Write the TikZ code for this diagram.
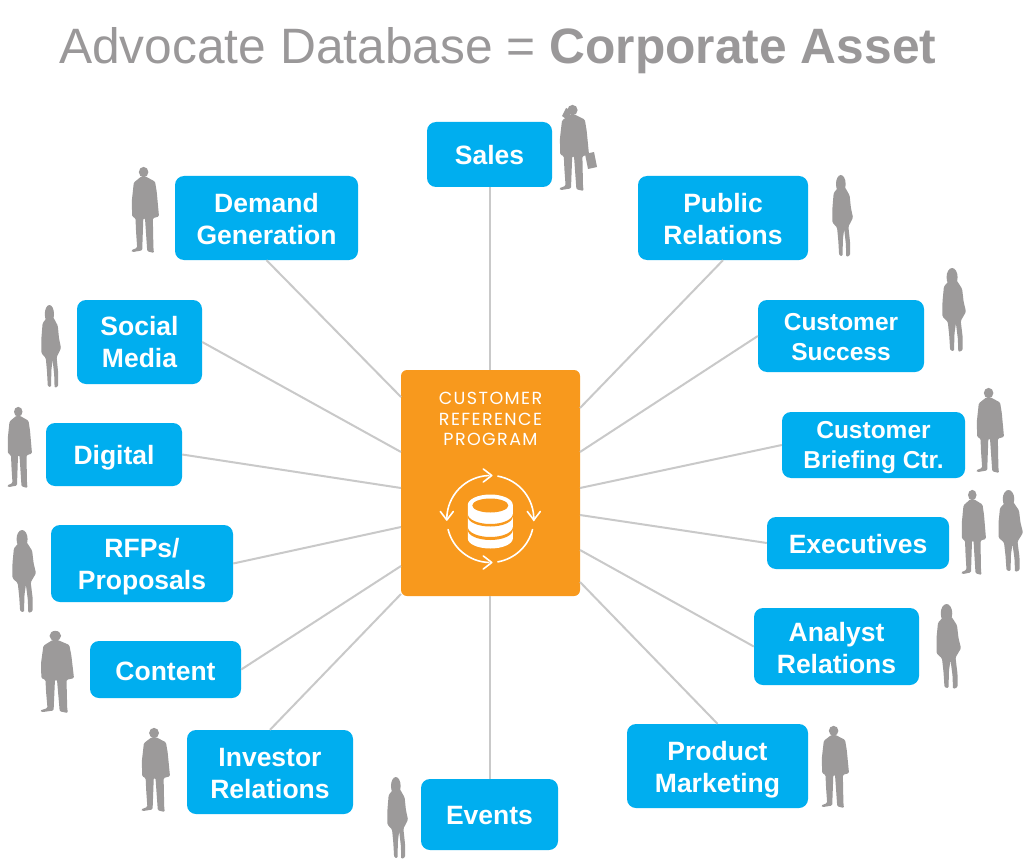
\documentclass[tikz,border=0pt]{standalone}
\usepackage{fontspec}
\setmainfont{Liberation Sans}
\newfontfamily\crpfont[LetterSpace=8]{Poppins}
\definecolor{boxblue}{HTML}{00AEEF}
\definecolor{crporange}{HTML}{F8991D}
\definecolor{linegray}{HTML}{C9C9C9}
\definecolor{titlegray}{HTML}{9A9899}
\definecolor{persongray}{HTML}{9C9A9A}
\tikzset{
  bluebox/.style={fill=boxblue,rounded corners=9pt,inner sep=0pt},
  bigtext/.style={text=white,align=center,inner sep=0pt,font=\fontsize{26.5}{32}\selectfont\bfseries},
  smalltext/.style={text=white,align=center,inner sep=0pt,font=\fontsize{24.5}{30}\selectfont\bfseries},
  spoke/.style={draw=linegray,line width=2pt},
  ring/.style={draw=white,line width=1.6pt,line cap=round,line join=round},
  silhouette/.style={fill=persongray,draw=none,rounded corners=1.2pt}
}
% [text style]{x1}{y1}{x2}{y2}{name}{text drop}{text}
\newcommand{\rbox}[8][bigtext]{%
  \node[bluebox,minimum width={(#4-#2)*1pt},minimum height={(#5-#3)*1pt}] (#6)
    at ({(#2+#4)/2},{(#3+#5)/2}) {};
  \node[#1] (#6label) at ({(#2+#4)/2},{(#3+#5)/2+#7}) {#8};}
\newcommand{\manshape}{%
  \fill[silhouette] (45,7) ellipse [x radius=17,y radius=6];
  \fill[silhouette] (37,12)--(10,19)--(3,40)--(4,58)--(16,60)--(18,75)--(22,94)--(0,97)--(5,99)--(40,97)--(44,60)--(50,60)--(58,98)--(82,100)--(80,94)--(78,60)--(100,58)--(92,30)--(86,18)--(52,12)--cycle;}
\newcommand{\womanshape}{%
  \fill[silhouette] (42,11) ellipse [x radius=23,y radius=11];
  \fill[silhouette] (30,15)--(8,22)--(2,40)--(2,58)--(24,64)--(30,80)--(34,98)--(50,99)--(52,78)--(58,66)--(66,84)--(68,100)--(86,98)--(86,82)--(78,63)--(100,52)--(90,40)--(84,25)--(62,15)--cycle;}
\newcommand{\person}[5]{%
  \begin{scope}[shift={(#2,#3)},x={({(#4-#2)/100*1pt},0pt)},y={(0pt,{-(#5-#3)/100*1pt})}]
    \csname #1shape\endcsname
  \end{scope}}
\begin{document}
\begin{tikzpicture}[x=1pt,y=-1pt]
\useasboundingbox (0,0) rectangle (1030,861);
\fill[white] (0,0) rectangle (1030,861);

\node[anchor=west,inner sep=0pt,text=titlegray,font=\fontsize{49.7}{58}\selectfont] (title) at (59,51)
  {Advocate Database = \textbf{Corporate Asset}};

\node[fill=crporange,rounded corners=6pt,inner sep=0pt,minimum width=179pt,minimum height=226pt] (crp) at (490.5,483) {};
\node[align=center,text=white,inner sep=0pt,font=\crpfont\fontsize{17.5}{20.5}\selectfont] (crplabel) at (490.5,419)
  {CUSTOMER\\REFERENCE\\PROGRAM};

\rbox{427}{122}{552}{187}{sales}{1}{Sales}
\rbox{175}{176}{358}{260}{demand}{1}{Demand\\Generation}
\rbox{638}{176}{808}{260}{public}{1}{Public\\Relations}
\rbox{77}{300}{202}{384}{social}{0}{Social\\Media}
\rbox[smalltext]{758}{300}{924}{372}{success}{1}{Customer\\Success}
\rbox{46}{423}{182}{486}{digital}{3}{Digital}
\rbox[smalltext]{782}{412}{965}{478}{briefing}{3}{Customer\\Briefing Ctr.}
\rbox{767}{517}{949}{569}{exec}{1}{Executives}
\rbox{51}{525}{233}{602}{rfp}{3}{RFPs/\\Proposals}
\rbox{754}{608}{919}{685}{analyst}{1.5}{Analyst\\Relations}
\rbox{90}{641}{241}{698}{content}{1.5}{Content}
\rbox{627}{724}{808}{808}{product}{4}{Product\\Marketing}
\rbox{187}{730}{353}{814}{investor}{1.5}{Investor\\Relations}
\rbox{421}{779}{558}{850}{events}{1}{Events}

\coordinate (eSales) at (489.5,370);
\coordinate (eDemand) at (401,397);
\coordinate (eSocial) at (401,452);
\coordinate (eDigital) at (401,488);
\coordinate (eRfp) at (401,527);
\coordinate (eContent) at (401,566);
\coordinate (eInvestor) at (401,594);
\coordinate (eEvents) at (489.5,596);
\coordinate (eProduct) at (580,582);
\coordinate (eAnalyst) at (580,550);
\coordinate (eExec) at (580,515);
\coordinate (eBriefing) at (580,488);
\coordinate (eSuccess) at (580,452);
\coordinate (ePublic) at (580,408);

\draw[spoke] (sales.south) -- (eSales);
\draw[spoke] (demand.south) -- (eDemand);
\draw[spoke] (public.south) -- (ePublic);
\draw[spoke] (social.east) -- (eSocial);
\draw[spoke] (success.west) -- (eSuccess);
\draw[spoke] (digital.east) -- (eDigital);
\draw[spoke] (briefing.west) -- (eBriefing);
\draw[spoke] (exec.west) -- (eExec);
\draw[spoke] (rfp.east) -- (eRfp);
\draw[spoke] (analyst.west) -- (eAnalyst);
\draw[spoke] (content.east) -- (eContent);
\draw[spoke] (product.north) -- (eProduct);
\draw[spoke] (investor.north) -- (eInvestor);
\draw[spoke] (events.north) -- (eEvents);

% cycle icon
\begin{scope}[shift={(490.3,519)},x=1pt,y=1pt]
  \draw[ring] (180:43.5) arc (180:92:43.5);
  \draw[ring] (80:43.5) arc (80:-2:43.5);
  \draw[ring] (-14:43.5) arc (-14:-80:43.5);
  \draw[ring] (194:43.5) arc (194:268:43.5);
  % chevrons
  \draw[ring] (-7,50) -- (1.5,43.5) -- (-7,37);
  \draw[ring] (-7,-37) -- (1.5,-43.5) -- (-7,-50);
  \draw[ring] (37,7.5) -- (43.5,-1) -- (50,7.5);
  \draw[ring] (-50,7.5) -- (-43.5,-1) -- (-37,7.5);
  % database
  \fill[white] (-22.5,14) arc (180:0:22.5 and 10.5) -- (22.5,-19.5) arc (0:-180:22.5 and 10) -- cycle;
  \fill[crporange] (0,13.5) ellipse [x radius=18,y radius=7];
  \fill[crporange] (-22.5,5) arc (180:360:22.5 and 10) -- (22.5,2.5) arc (0:-180:22.5 and 10) -- cycle;
  \fill[crporange] (-22.5,-8) arc (180:360:22.5 and 10) -- (22.5,-11) arc (0:-180:22.5 and 10) -- cycle;
\end{scope}

% people
\person{man}{559}{104}{589}{191}
\fill[persongray] (585,154) -- (594,152) -- (597,167) -- (588,169) -- cycle;
\fill[persongray] (562,116) -- (566,108) -- (570,110) -- (570,122) -- cycle;
\person{man}{131}{166}{159}{253}
\person{woman}{832}{175}{853}{257}
\person{woman}{41}{305}{61}{388}
\person{woman}{942}{268}{966}{352}
\person{man}{976}{387}{1004}{473}
\person{man}{961}{489}{986}{575}
\person{woman}{998}{490}{1023}{572}
\person{man}{7}{406}{32}{488}
\person{woman}{12}{530}{36}{613}
\person{woman}{936}{604}{961}{689}
\person{man}{40}{630}{74}{713}
\person{man}{141}{727}{170}{812}
\person{woman}{387}{777}{408}{859}
\person{man}{821}{725}{849}{808}
\end{tikzpicture}
\end{document}
